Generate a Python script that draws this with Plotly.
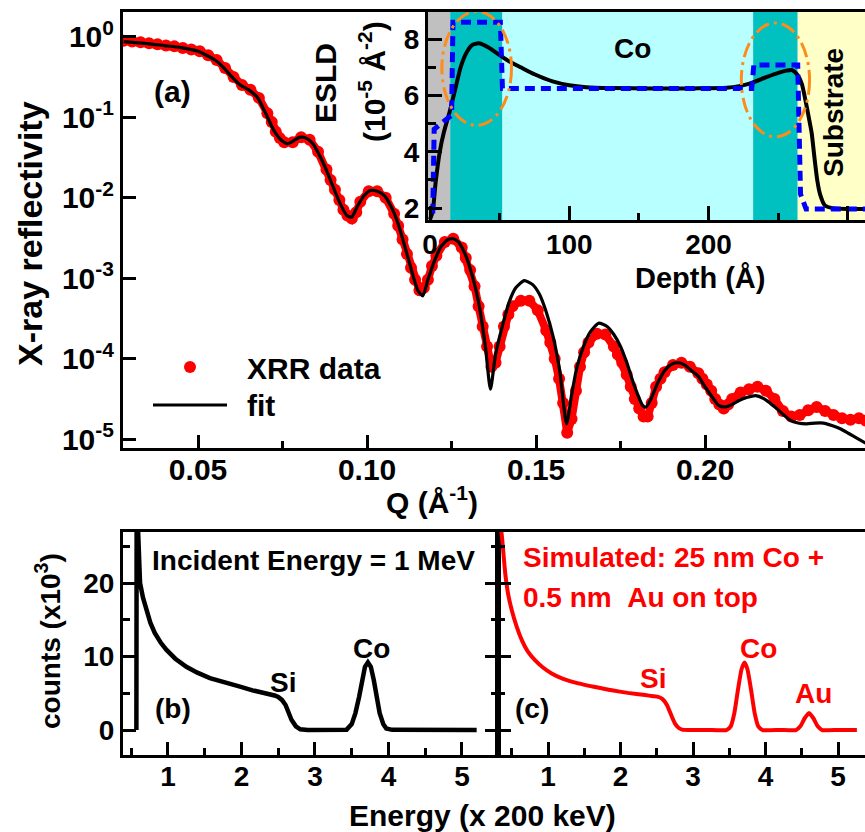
import plotly.graph_objects as go

W, H = 865, 832
FONT = "Liberation Sans"

# ---------------- (a) X-ray reflectivity ----------------
q_data = [0.0280, 0.0305, 0.0330, 0.0355, 0.0380, 0.0405, 0.0430, 0.0455, 0.0480, 0.0505,
          0.0530, 0.0555, 0.0580, 0.0605, 0.0630, 0.0655, 0.0680, 0.0705, 0.0718, 0.0730,
          0.0742, 0.0755, 0.0780, 0.0805, 0.0830, 0.0855, 0.0880, 0.0892, 0.0905, 0.0918,
          0.0930, 0.0942, 0.0955, 0.0968, 0.0980, 0.1005, 0.1030, 0.1055, 0.1080, 0.1092,
          0.1105, 0.1118, 0.1130, 0.1142, 0.1155, 0.1168, 0.1180, 0.1192, 0.1205, 0.1230,
          0.1255, 0.1280, 0.1292, 0.1305, 0.1318, 0.1330, 0.1342, 0.1355, 0.1368, 0.1380,
          0.1392, 0.1405, 0.1418, 0.1430, 0.1455, 0.1480, 0.1505, 0.1530, 0.1542, 0.1555,
          0.1568, 0.1580, 0.1592, 0.1605, 0.1618, 0.1630, 0.1642, 0.1655, 0.1680, 0.1705,
          0.1730, 0.1742, 0.1755, 0.1768, 0.1780, 0.1792, 0.1805, 0.1818, 0.1830, 0.1842,
          0.1855, 0.1868, 0.1880, 0.1905, 0.1930, 0.1955, 0.1980, 0.1992, 0.2005, 0.2018,
          0.2030, 0.2042, 0.2055, 0.2068, 0.2080, 0.2105, 0.2130, 0.2155, 0.2180, 0.2205,
          0.2230, 0.2255, 0.2280, 0.2305, 0.2330, 0.2355, 0.2380, 0.2405, 0.2430, 0.2455,
          0.2475]
log10_r_data = [-0.05, -0.06, -0.07, -0.08, -0.095, -0.11, -0.12, -0.14, -0.16, -0.18,
                -0.23, -0.29, -0.39, -0.50, -0.60, -0.66, -0.76, -0.95, -1.06, -1.18,
                -1.26, -1.31, -1.31, -1.25, -1.28, -1.43, -1.65, -1.78, -1.90, -2.03,
                -2.15, -2.22, -2.26, -2.18, -2.05, -1.92, -1.92, -2.00, -2.20, -2.35,
                -2.52, -2.70, -2.87, -3.02, -3.15, -3.12, -3.02, -2.85, -2.72, -2.55,
                -2.51, -2.62, -2.75, -2.90, -3.10, -3.35, -3.60, -3.85, -4.10, -4.05,
                -3.85, -3.60, -3.45, -3.35, -3.28, -3.28, -3.40, -3.65, -3.80, -4.00,
                -4.25, -4.55, -4.92, -4.75, -4.40, -4.10, -3.92, -3.80, -3.69, -3.70,
                -3.85, -3.95, -4.05, -4.20, -4.35, -4.50, -4.62, -4.72, -4.72, -4.55,
                -4.35, -4.25, -4.17, -4.08, -4.05, -4.10, -4.18, -4.25, -4.32, -4.40,
                -4.50, -4.57, -4.62, -4.57, -4.50, -4.42, -4.38, -4.35, -4.40, -4.50,
                -4.65, -4.72, -4.70, -4.64, -4.60, -4.65, -4.70, -4.74, -4.76, -4.74,
                -4.77]

q_fit = [0.028, 0.035, 0.040, 0.045, 0.050, 0.0525, 0.055, 0.0575, 0.060, 0.0625,
         0.065, 0.0675, 0.070, 0.0725, 0.075, 0.0765, 0.078, 0.080, 0.082, 0.084,
         0.086, 0.088, 0.090, 0.092, 0.094, 0.0955, 0.097, 0.099, 0.101, 0.103,
         0.105, 0.107, 0.109, 0.111, 0.113, 0.115, 0.1165, 0.118, 0.120, 0.122,
         0.124, 0.1255, 0.127, 0.129, 0.131, 0.133, 0.135, 0.1365, 0.138, 0.140,
         0.142, 0.144, 0.1465, 0.149, 0.151, 0.153, 0.155, 0.157, 0.159, 0.1605,
         0.162, 0.164, 0.166, 0.1685, 0.171, 0.173, 0.175, 0.177, 0.179, 0.1815,
         0.1825, 0.184, 0.186, 0.188, 0.190, 0.192, 0.194, 0.196, 0.198, 0.200,
         0.202, 0.204, 0.206, 0.208, 0.210, 0.2125, 0.215, 0.2175, 0.220, 0.2225,
         0.225, 0.2275, 0.230, 0.2325, 0.235, 0.2375, 0.240, 0.2425, 0.245, 0.2475]
log10_r_fit = [-0.06, -0.085, -0.11, -0.135, -0.18, -0.23, -0.29, -0.38, -0.50, -0.60,
               -0.66, -0.75, -0.95, -1.17, -1.30, -1.33, -1.30, -1.25, -1.26, -1.33,
               -1.48, -1.66, -1.87, -2.07, -2.22, -2.24, -2.12, -1.98, -1.91, -1.92,
               -1.97, -2.10, -2.30, -2.58, -2.88, -3.15, -3.22, -3.02, -2.78, -2.60,
               -2.52, -2.51, -2.55, -2.70, -2.95, -3.30, -3.85, -4.38, -3.95, -3.60,
               -3.30, -3.12, -3.03, -3.08, -3.20, -3.42, -3.72, -4.15, -4.81, -4.45,
               -4.12, -3.85, -3.67, -3.56, -3.60, -3.70, -3.85, -4.07, -4.33, -4.58,
               -4.60, -4.50, -4.30, -4.15, -4.07, -4.05, -4.08, -4.15, -4.22, -4.35,
               -4.47, -4.58, -4.60, -4.57, -4.52, -4.48, -4.46, -4.50, -4.58, -4.67,
               -4.76, -4.80, -4.81, -4.80, -4.80, -4.83, -4.87, -4.93, -4.99, -5.05]

r_ticks = [1, 1e-1, 1e-2, 1e-3, 1e-4, 1e-5]
r_ticktext = ["10<sup>0</sup>", "10<sup>-1</sup>", "10<sup>-2</sup>", "10<sup>-3</sup>",
              "10<sup>-4</sup>", "10<sup>-5</sup>"]
q_ticks = [0.05, 0.10, 0.15, 0.20]
q_ticktext = ["0.05", "0.10", "0.15", "0.20"]
q_minor = [0.075, 0.125, 0.175, 0.225]

# ---------------- inset: ESLD depth profile ----------------
depth_fit = [0, 2, 4, 7, 10, 14, 18, 22, 26, 30, 35, 42, 50, 57, 65, 75, 88, 100, 112, 130,
             160, 190, 213, 222, 230, 242, 250, 256, 260, 264, 267, 269.5, 272, 274, 276,
             278, 280, 283.5, 289, 300, 315]
esld_fit = [1.6, 1.9, 2.9, 4.0, 4.7, 5.4, 6.2, 7.0, 7.5, 7.78, 7.85, 7.7, 7.43, 7.2, 7.0,
            6.75, 6.5, 6.36, 6.29, 6.26, 6.25, 6.25, 6.27, 6.33, 6.43, 6.66, 6.8, 6.88, 6.9,
            6.72, 6.4, 5.84, 5.2, 4.67, 3.8, 3.0, 2.5, 2.1, 2.0, 1.97, 1.97]
depth_model = [0, 2, 3, 8, 15.5, 16.5, 50.5, 52, 231, 232.5, 264, 266, 270, 315]
esld_model = [1.9, 1.9, 4.8, 5.0, 5.3, 8.6, 8.6, 6.25, 6.25, 7.08, 7.08, 2.5, 1.97, 1.97]

layer_edges = [-2, 14.5, 52, 232, 264, 320]
layer_colors = ["#c0c0c0", "#00c0c0", "#b8ffff", "#00c0c0", "#ffffc8"]
# highlighted interface regions (center depth, center ESLD, half-width, half-height)
ellipses = [(33.5, 6.96, 25, 2.02), (248, 6.55, 24.5, 2.02)]

# ---------------- (b) measured RBS, (c) simulated ----------------
energy_b = [0.57, 0.575, 0.59, 0.605, 0.62, 0.66, 0.71, 0.76, 0.82, 0.90, 0.98, 1.10, 1.25,
            1.40, 1.57, 1.75, 1.98, 2.15, 2.34, 2.45, 2.50, 2.55, 2.60, 2.64, 2.68, 2.74,
            2.80, 2.90, 3.10, 3.30, 3.43, 3.50, 3.55, 3.60, 3.64, 3.68, 3.72, 3.76, 3.80,
            3.84, 3.88, 3.93, 3.97, 4.05, 4.40, 4.80, 5.20]
counts_b = [0, 40, 28, 23.5, 20, 18, 16.3, 14.6, 13.2, 11.9, 10.9, 9.7, 8.6,
            7.8, 7.07, 6.5, 5.9, 5.4, 5.0, 4.7, 4.5, 4.1, 3.4, 2.5, 1.4, 0.5,
            0.1, 0, 0, 0, 0.05, 0.8, 2.3, 4.5, 6.8, 8.6, 9.2, 8.6, 6.8,
            4.5, 2.3, 0.8, 0.2, 0.02, 0, 0, 0]
energy_c = [0.32, 0.36, 0.41, 0.45, 0.50, 0.57, 0.64, 0.72, 0.82, 0.93, 1.05, 1.20, 1.42,
            1.65, 1.88, 2.10, 2.34, 2.45, 2.52, 2.58, 2.64, 2.70, 2.75, 2.80, 2.85, 2.95,
            3.20, 3.46, 3.52, 3.57, 3.62, 3.67, 3.71, 3.75, 3.80, 3.85, 3.90, 3.96, 4.20,
            4.42, 4.48, 4.54, 4.60, 4.66, 4.72, 4.78, 5.00, 5.26]
counts_c = [29, 26.7, 21.3, 18.5, 16.3, 14.0, 12.2, 10.7, 9.5, 8.5, 7.7, 7.0, 6.35,
            5.85, 5.4, 5.05, 4.75, 4.6, 4.5, 4.2, 3.4, 2.0, 0.9, 0.3, 0.05, 0,
            0, 0, 0.5, 2.3, 5.5, 8.3, 9.2, 8.3, 5.5, 2.3, 0.5, 0, 0,
            0, 0.5, 1.6, 2.3, 1.6, 0.5, 0, 0, 0]

# ------------------------------------------------------------------
def px(x):
    return x / W


def py(y):
    return 1 - y / H


fig = go.Figure()

fig.add_trace(go.Scatter(x=q_data, y=[10 ** v for v in log10_r_data], mode="lines+markers",
                         line=dict(color="#ff0000", width=8),
                         marker=dict(color="#ff0000", size=12, line=dict(width=0)),
                         xaxis="x", yaxis="y", showlegend=False, name="XRR data"))
fig.add_trace(go.Scatter(x=q_fit, y=[10 ** v for v in log10_r_fit], mode="lines",
                         line=dict(color="black", width=3.2, shape="spline", smoothing=0.6),
                         xaxis="x", yaxis="y", showlegend=False, name="fit"))

fig.add_trace(go.Scatter(x=depth_fit, y=esld_fit, mode="lines",
                         line=dict(color="black", width=4, shape="spline", smoothing=0.6),
                         xaxis="x2", yaxis="y2", showlegend=False))
fig.add_trace(go.Scatter(x=depth_model, y=esld_model, mode="lines",
                         line=dict(color="#0000ff", width=5, dash="10px,6px"),
                         xaxis="x2", yaxis="y2", showlegend=False))

fig.add_trace(go.Scatter(x=energy_b, y=counts_b, mode="lines",
                         line=dict(color="black", width=4.5),
                         xaxis="x3", yaxis="y3", showlegend=False))
fig.add_trace(go.Scatter(x=energy_c, y=counts_c, mode="lines",
                         line=dict(color="#ff0000", width=4, shape="spline", smoothing=0.5),
                         xaxis="x4", yaxis="y4", showlegend=False))

tick_common = dict(ticks="inside", tickwidth=3, tickcolor="black", showline=True,
                   linewidth=3, linecolor="black", showgrid=False, zeroline=False,
                   automargin=False)

shapes = []
for i, col in enumerate(layer_colors):
    shapes.append(dict(type="rect", xref="x2", yref="y2 domain", x0=layer_edges[i],
                       x1=layer_edges[i + 1], y0=0, y1=1, fillcolor=col,
                       line=dict(width=0), layer="below"))
for cx, cy, rx, ry in ellipses:
    shapes.append(dict(type="circle", xref="x2", yref="y2", x0=cx - rx, x1=cx + rx,
                       y0=cy - ry, y1=cy + ry,
                       line=dict(color="#ff8c1a", width=3, dash="15px,5px,3px,5px")))
# legend samples
shapes.append(dict(type="circle", xref="paper", yref="paper", x0=px(184), x1=px(196),
                   y0=py(373), y1=py(361), fillcolor="#ff0000", line=dict(width=0)))
shapes.append(dict(type="line", xref="paper", yref="paper", x0=px(153), x1=px(227),
                   y0=py(405), y1=py(405), line=dict(color="black", width=3)))


def ann(text, x, y, size, color="black", angle=0, xanchor="center"):
    return dict(text=text, x=px(x), y=py(y), xref="paper", yref="paper", showarrow=False,
                textangle=angle, xanchor=xanchor, yanchor="middle",
                font=dict(family=FONT, size=size, color=color, weight="bold"))


annotations = [
    ann("X-ray reflectivity", 30, 234, 34, angle=-90),
    ann("Q (Å<sup>-1</sup>)", 432, 500, 30),
    ann("(a)", 172, 91, 30),
    ann("ESLD", 325, 83, 30, angle=-90),
    ann("(10<sup>-5</sup> Å<sup>-2</sup>)", 372, 82, 30, angle=-90),
    ann("Depth (Å)", 700, 278, 29),
    ann("Co", 632, 48, 28),
    ann("Substrate", 833, 113, 28, angle=-90),
    ann("XRR data", 245, 368, 30, xanchor="left"),
    ann("fit", 245, 406, 30, xanchor="left"),
    ann("Incident Energy = 1 MeV", 150, 560, 28, xanchor="left"),
    ann("Si", 283, 682, 28),
    ann("Co", 371, 648, 28),
    ann("(b)", 173, 708, 28),
    ann("Simulated: 25 nm Co +", 521, 557, 28, color="#ff0000", xanchor="left"),
    ann("0.5 nm\u00a0\u00a0Au on top", 521, 597, 28, color="#ff0000", xanchor="left"),
    ann("Si", 653, 678, 28, color="#ff0000"),
    ann("Co", 758, 648, 28, color="#ff0000"),
    ann("Au", 813, 693, 28, color="#ff0000"),
    ann("(c)", 532, 708, 28),
    ann("counts (x10<sup>3</sup>)", 48, 641, 28, angle=-90),
    ann("Energy (x 200 keV)", 482, 815, 30),
]

fig.update_layout(
    width=W, height=H,
    margin=dict(l=0, r=0, t=0, b=0),
    paper_bgcolor="white", plot_bgcolor="rgba(0,0,0,0)",
    font=dict(family=FONT, size=30, color="black", weight="bold"),
    showlegend=False,
    xaxis=dict(domain=[px(123), 1.0], range=[0.0278, 0.2473], anchor="y",
               tickvals=q_ticks, ticktext=q_ticktext, ticklen=13, mirror=True,
               ticklabelstandoff=-7,
               minor=dict(tickvals=q_minor, ticks="inside", ticklen=7, tickwidth=3,
                          tickcolor="black"),
               tickfont=dict(size=30, family=FONT, weight="bold"), **tick_common),
    yaxis=dict(domain=[py(448), py(12)], type="log", range=[-5.11, 0.307], anchor="x",
               tickvals=r_ticks, ticktext=r_ticktext, ticklen=13,
               tickfont=dict(size=30, family=FONT, weight="bold"), **tick_common),
    xaxis2=dict(domain=[px(428), 1.0], range=[-1.44, 312.3], anchor="y2",
                tickvals=[0, 100, 200, 300], ticklen=14, mirror=True,
                ticklabelstandoff=-3,
                minor=dict(tickvals=[50, 150, 250], ticks="inside", ticklen=7, tickwidth=3,
                           tickcolor="black"),
                tickfont=dict(size=28, family=FONT, weight="bold"), **tick_common),
    yaxis2=dict(domain=[py(220), py(12)], range=[1.58, 8.96], anchor="x2",
                tickvals=[2, 4, 6, 8], ticklen=14,
                minor=dict(tickvals=[3, 5, 7], ticks="inside", ticklen=8, tickwidth=3,
                           tickcolor="black"),
                tickfont=dict(size=28, family=FONT, weight="bold"), **tick_common),
    xaxis3=dict(domain=[px(123), px(498)], range=[0.388, 5.49], anchor="y3",
                tickvals=[1, 2, 3, 4, 5], ticklen=13, mirror=True, ticklabelstandoff=-6,
                minor=dict(tickvals=[0.5, 1.5, 2.5, 3.5, 4.5], ticks="inside", ticklen=7,
                           tickwidth=3, tickcolor="black"),
                tickfont=dict(size=28, family=FONT, weight="bold"), **tick_common),
    yaxis3=dict(domain=[py(755), py(532)], range=[-3.4, 26.94], anchor="x3",
                tickvals=[0, 10, 20], ticklen=13, mirror="ticks",
                minor=dict(tickvals=[5, 15, 25], ticks="inside", ticklen=7, tickwidth=3,
                           tickcolor="black"),
                tickfont=dict(size=28, family=FONT, weight="bold"), **tick_common),
    xaxis4=dict(domain=[px(498), 1.0], range=[0.31, 5.372], anchor="y4",
                tickvals=[1, 2, 3, 4, 5], ticklen=13, mirror=True, ticklabelstandoff=-6,
                minor=dict(tickvals=[0.5, 1.5, 2.5, 3.5, 4.5], ticks="inside", ticklen=7,
                           tickwidth=3, tickcolor="black"),
                tickfont=dict(size=28, family=FONT, weight="bold"), **tick_common),
    yaxis4=dict(domain=[py(755), py(532)], range=[-3.4, 26.94], anchor="x4",
                tickvals=[0, 10, 20], ticklen=13, showticklabels=False,
                minor=dict(tickvals=[5, 15, 25], ticks="inside", ticklen=7, tickwidth=3,
                           tickcolor="black"),
                **tick_common),
    shapes=shapes,
    annotations=annotations,
)

fig.write_html("out.html", config={"displayModeBar": False},
               post_script="document.body.style.margin='0px';")
